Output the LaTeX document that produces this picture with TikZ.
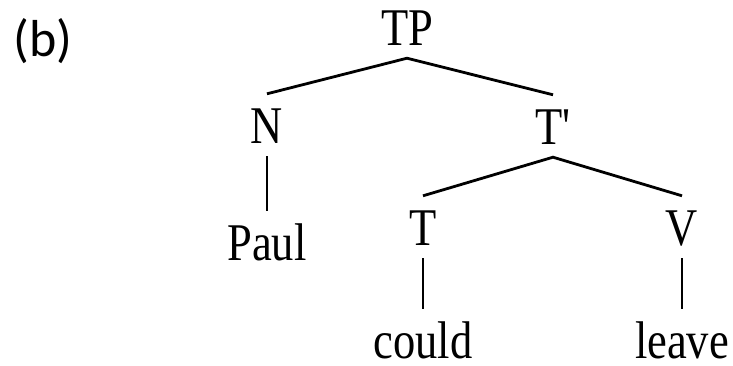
\documentclass[tikz,border=0pt]{standalone}
\usepackage{fontspec}
\usepackage{tikz}
\newfontfamily\treefont[FakeStretch=0.84]{Liberation Serif}
\newfontfamily\tagfont{Carlito}

\begin{document}
\begin{tikzpicture}[x=1pt,y=-1pt,%
% common options for the tree labels:
word/.style = {font=\treefont\fontsize{53}{60}\selectfont, anchor=base,
            text height=36pt, text depth=0pt, inner xsep=0pt, inner ysep=13pt},
% leaves keep the gap above only:
leaf/.style = {word, text height=49pt, inner ysep=0pt},
% branches and the single stems:
branch/.style = {line width=2.8pt},
stem/.style = {line width=2pt}]
\useasboundingbox (0,0) rectangle (733,365);
\node[font=\tagfont\fontsize{52}{60}\selectfont,anchor=base] (tag) at (43,56) {(b)};
\node[word] (A0) at (407,45) {TP};
\node[word] (B1) at (267,143) {N};
\node[word] (B2) at (553,144) {T'};
\node[word] (C1) at (267,260) {Paul};
\node[word] (C2) at (423,245) {T};
\node[word] (C3) at (682,245) {V};
\node[leaf] (D2) at (423,358) {could};
\node[leaf] (D3) at (682,358) {leave};
\draw[branch] (B1.north) -- (A0.south) -- (B2.north);
\draw[branch] (C2.north) -- (B2.south) -- (C3.north);
\draw[stem] (B1.south) -- (C1.north);
\draw[stem] (C2.south) -- (D2.north);
\draw[stem] (C3.south) -- (D3.north);
\end{tikzpicture}
\end{document}
